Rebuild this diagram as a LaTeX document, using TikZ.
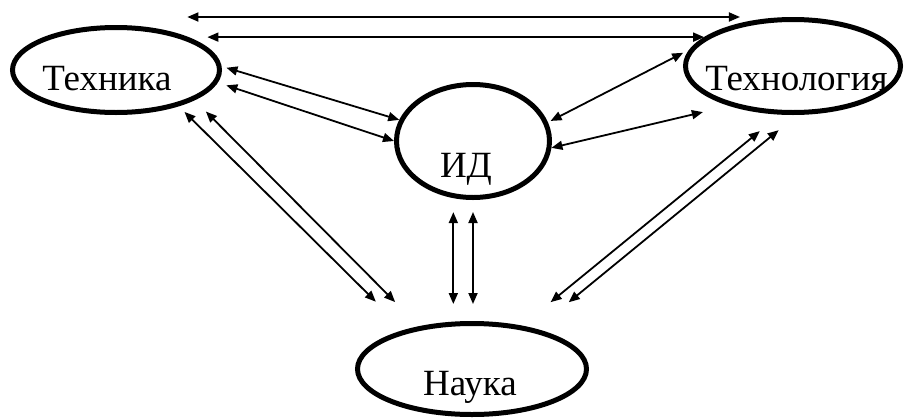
\documentclass[tikz,border=0pt]{standalone}
\usepackage{fontspec}
\setmainfont{Liberation Serif}
\usetikzlibrary{arrows.meta,shapes.geometric}
\tikzset{
  blob/.style={ellipse, draw, line width=5pt, inner sep=0pt},
  link/.style={{Triangle[length=11pt,width=9pt]}-{Triangle[length=11pt,width=9pt]}, line width=1.8pt},
  word/.style={anchor=base, inner sep=0pt, font=\fontsize{37}{40}\selectfont}
}

\begin{document}
\begin{tikzpicture}[x=1pt, y=-1pt]
  \useasboundingbox (0,0) rectangle (904,418);
  % the four ellipses
  \node[blob, minimum width=207pt, minimum height=85pt] (tech) at (116,70) {};
  \node[blob, minimum width=215pt, minimum height=93pt] (techn) at (793,66) {};
  \node[blob, minimum width=153pt, minimum height=113pt] (id) at (473,141) {};
  \node[blob, minimum width=229pt, minimum height=91pt] (nauka) at (472,369) {};
  % their labels, set a little low
  \node[word] (techt) at (107,90) {Техника};
  \node[word] (technt) at (796.5,90) {Технология};
  \node[word] (idt) at (466,177) {ИД};
  \node[word] (naukat) at (470,395) {Наука};
  % Техника -- Технология
  \draw[link] (techn.north -| tech.25) -- (techn.north -| techn.141);
  \draw[link] (techn.162 -| tech.14) -- (techn.162);
  % Техника -- ИД
  \draw[link, shorten <=5pt] (tech.2) -- (id.164);
  \draw[link, shorten <=9pt] (tech.-7) -- (id.180);
  % ИД -- Технология
  \draw[link, shorten <=3pt, shorten >=7pt] (id.14) -- (techn.171);
  \draw[link, shorten >=27pt] (id.-5) -- (techn.212);
  % Техника -- Наука
  \draw[link, shorten <=8pt, shorten >=40pt] (tech.-30) -- (nauka.150);
  \draw[link, shorten <=16pt, shorten >=34pt] (tech.-21) -- (nauka.141);
  % ИД -- Наука
  \draw[link, shorten <=14pt, shorten >=17pt] (id.251) -- (id.251 |- nauka.north);
  \draw[link, shorten <=12pt, shorten >=17pt] (id.south) -- (id.south |- nauka.north);
  % Технология -- Наука
  \draw[link, shorten <=26pt, shorten >=37pt] (techn.255) -- (nauka.41);
  \draw[link, shorten <=24pt, shorten >=42pt] (techn.275) -- (nauka.32);
\end{tikzpicture}
\end{document}
